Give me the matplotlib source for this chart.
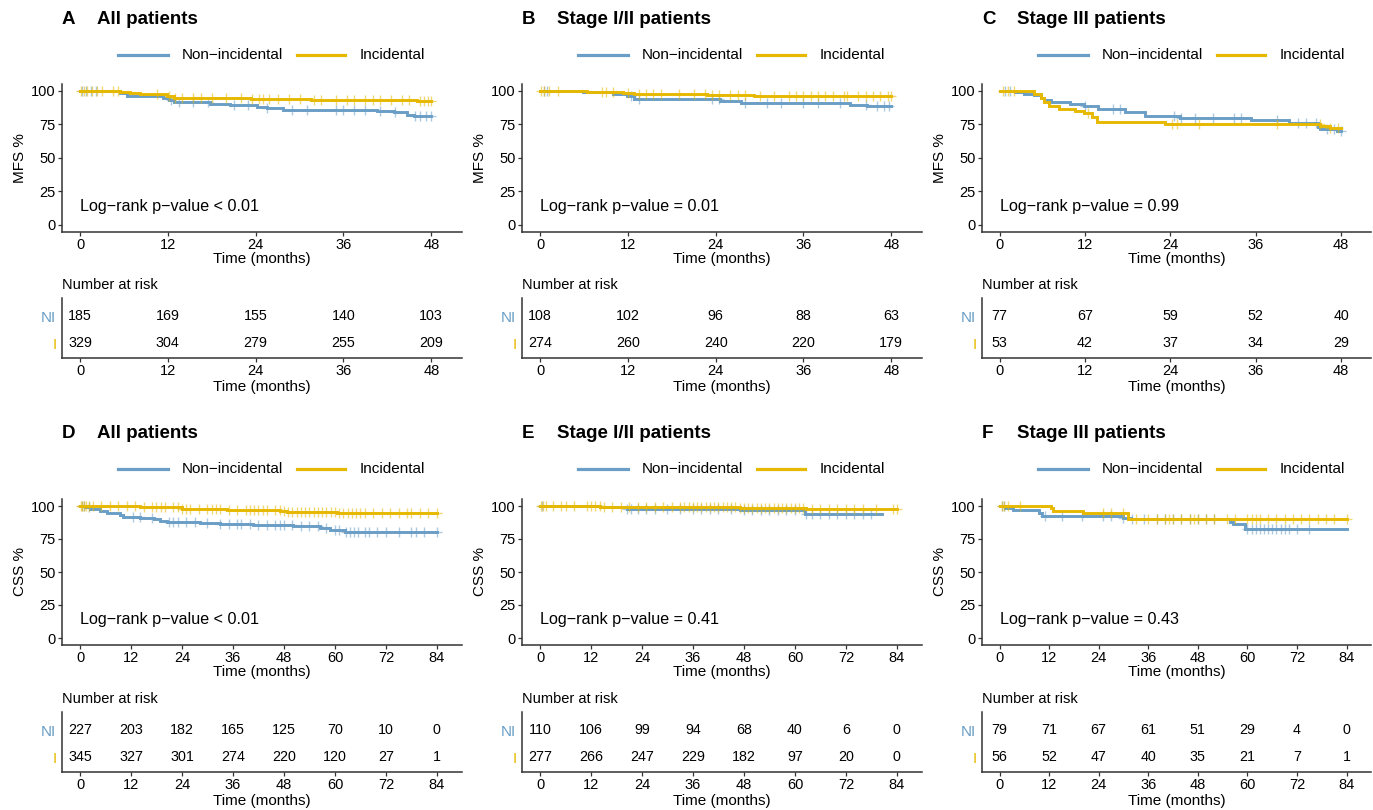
import numpy as np
import matplotlib
matplotlib.use("Agg")
import matplotlib.pyplot as plt
from matplotlib.lines import Line2D

plt.rcParams['font.family'] = ['Liberation Sans', 'DejaVu Sans']

BLUE = '#6a9ec6'
YELLOW = '#e7b800'
AXC = '#333333'
W, H = 1373, 810

# ---- panel A: MFS, all patients ----
a_ni_time = [0, 5.5, 6.4, 11.4, 12.1, 12.8, 17.8, 20.5, 24.2, 25.5, 27.8, 40.6, 42.9, 44.7, 45.6, 48]
a_ni_surv = [100, 98.5, 96, 95, 93, 91.5, 90.5, 89.5, 88, 87, 86, 85, 84, 82, 81, 81]
a_ni_cens = [0.3, 0.8, 1.5, 2.2, 12.5, 13.5, 15.5, 17.5, 21, 23, 25.5, 29, 31, 35, 36, 37.5, 39, 41, 43, 45.8, 46.5, 47.3, 47.9]
a_i_time = [0, 5.5, 6.8, 8.2, 11.9, 12.8, 23.3, 31.5, 46, 48]
a_i_surv = [100, 99.5, 98.5, 97.5, 96, 95, 94, 93, 92.5, 92.5]
a_i_cens = [0.2, 0.6, 1.0, 1.6, 2.3, 3.0, 4.5, 5.2, 10.5, 12.2, 13, 14, 15.5, 16.5, 18, 20, 22, 23.5, 24.5, 25,
            25.8, 27, 28.5, 30, 32, 33, 35, 36.5, 37.5, 39, 40, 41, 42.5, 44, 45, 46.5, 47, 47.5, 48]

# ---- panel B: MFS, stage I/II ----
b_ni_time = [0, 5.9, 10, 11.9, 12.8, 24.6, 27.4, 42.4, 44.7, 48]
b_ni_surv = [100, 99.3, 97.8, 96.5, 94.3, 92.9, 91.4, 89.9, 88.8, 88.8]
b_ni_cens = [0.5, 1, 12.5, 13.5, 23.5, 24.5, 28, 31, 33, 36, 38, 41, 44.5, 46, 47, 47.7]
b_i_time = [0, 6.4, 11.4, 12.8, 22.8, 29.2, 33.7, 48]
b_i_surv = [100, 99.5, 98.7, 97.7, 97.2, 96.4, 95.9, 95.9]
b_i_cens = [0.2, 0.6, 1.2, 2.5, 8.5, 9, 10, 12, 13.5, 14.5, 15.5, 16.5, 19, 21, 22.5, 23.5, 24.5, 26, 27, 28, 30,
            32, 34, 35, 36, 37, 38, 39, 40, 41.5, 42, 43.5, 44.5, 45.5, 46.5, 47.5, 48]

# ---- panel C: MFS, stage III ----
c_ni_time = [0, 2.2, 3.5, 4.9, 5.8, 6.3, 7.2, 9.9, 11.9, 13.8, 17.7, 20.4, 25.4, 35.3, 40.7, 44.7, 45.0, 47.4, 48]
c_ni_surv = [100, 99, 98, 97, 95, 93, 92, 90, 89, 86.5, 84, 81, 79.5, 78, 76, 73.5, 72, 70, 70]
c_ni_cens = [0.8, 1.5, 12, 16, 17, 24.5, 25.5, 27.5, 30, 33, 34, 39, 42, 43, 44.5, 46, 47, 48]
c_i_time = [0, 4.8, 5.8, 6.3, 6.9, 8.3, 10.6, 11.9, 13.0, 13.7, 23.3, 45.1, 46.5, 48]
c_i_surv = [100, 97.5, 95, 92, 88.75, 86.75, 85, 83.3, 80.75, 77, 75, 74, 72.5, 72.5]
c_i_cens = [0.5, 1.2, 2, 12.5, 24.3, 25, 28, 39, 45, 46.5, 47.5]

# ---- panel D: CSS, all patients ----
d_ni_time = [0, 1.2, 2.4, 4.7, 6.3, 9.4, 10.2, 14.1, 17.3, 18.8, 20.4, 28.2, 32.9, 40.8, 50.2, 56.5, 58.8, 61.2, 62.4, 84]
d_ni_surv = [100, 99, 97.5, 96, 94.5, 93, 92, 91, 90, 89, 88, 87, 86, 85.5, 84.5, 83, 82, 81.5, 80, 80]
d_ni_cens = [0.5, 1, 2, 12.5, 14, 17, 21, 22, 23, 25, 27, 30, 33, 35, 37, 38, 40, 42, 44, 46, 47, 48, 50, 52,
             54, 56, 58, 60, 61, 62.5, 63.5, 64.5, 65.5, 67, 68, 70, 72, 75, 78, 79, 81, 84]
d_i_time = [0, 14.1, 17.3, 23.9, 34.5, 47.1, 48.6, 60.4, 84]
d_i_surv = [100, 99.5, 99, 98, 97, 96, 95.5, 95, 95]
d_i_cens = [0.2, 0.5, 1, 1.5, 2, 3, 5, 7, 9, 11, 13, 15, 17, 18, 19, 20, 22, 23, 24, 25, 26, 28, 30, 31, 32, 33,
            35, 37, 39, 40, 41, 42, 43, 44, 46, 47, 48, 49, 50, 51, 52, 53, 54, 55, 56, 57, 58, 59, 60, 61, 62,
            63, 64, 65, 66, 67, 69, 71, 73, 75, 77, 78, 80, 82, 84]

# ---- panel E: CSS, stage I/II ----
e_ni_time = [0, 14.1, 20.4, 47, 62.4, 80.4]
e_ni_surv = [100, 99.3, 98, 97.3, 94, 94]
e_ni_cens = [0.5, 20.5, 21.5, 23, 25, 27, 30, 33, 36, 38, 40, 42, 45, 48, 50, 52, 54, 56, 58, 60, 62.7, 64,
             66, 68, 70, 72, 74, 76, 78]
e_i_time = [0, 14.1, 47, 62.7, 84]
e_i_surv = [100, 99.3, 98.3, 97.8, 97.8]
e_i_cens = [0.3, 0.8, 1.5, 3, 5, 6, 8, 11, 12, 13, 14, 15, 17, 19, 21, 23, 25, 27, 29, 31, 33, 34, 35, 36, 37,
            38, 39, 40, 41, 42, 43, 44, 45, 46, 47, 48, 49, 50, 51, 52, 53, 54, 55, 56, 57, 58, 59, 60, 61, 62,
            64, 66, 68, 70, 72, 74, 76, 79, 83, 84]

# ---- panel F: CSS, stage III ----
f_ni_time = [0, 1.3, 3.3, 9.6, 10.2, 29.8, 31.8, 55.8, 56.6, 59.3, 84]
f_ni_surv = [100, 98.8, 97.3, 95, 92.3, 91, 90, 87.6, 86, 82.7, 82.7]
f_ni_cens = [0.6, 1.2, 11, 15, 20, 25, 27, 30, 32, 35, 38, 40, 42, 44, 46, 48, 50, 52, 60, 61, 62, 63, 64,
             65, 66, 67, 68, 69, 70, 72, 75]
f_i_time = [0, 12.4, 13, 20.3, 31.2, 84]
f_i_surv = [100, 98.3, 96.5, 94.5, 90, 90]
f_i_cens = [0.5, 1.2, 2, 5, 25, 27, 30, 33, 36, 38, 40, 41, 42, 44, 46, 47, 48, 50, 52, 55, 57, 60, 61, 62,
            63, 65, 67, 69, 71, 73, 75, 77, 79, 81, 84]

# ---- numbers at risk ----
mfs_times = [0, 12, 24, 36, 48]
css_times = [0, 12, 24, 36, 48, 60, 72, 84]
risk_a_ni = [185, 169, 155, 140, 103]
risk_a_i = [329, 304, 279, 255, 209]
risk_b_ni = [108, 102, 96, 88, 63]
risk_b_i = [274, 260, 240, 220, 179]
risk_c_ni = [77, 67, 59, 52, 40]
risk_c_i = [53, 42, 37, 34, 29]
risk_d_ni = [227, 203, 182, 165, 125, 70, 10, 0]
risk_d_i = [345, 327, 301, 274, 220, 120, 27, 1]
risk_e_ni = [110, 106, 99, 94, 68, 40, 6, 0]
risk_e_i = [277, 266, 247, 229, 182, 97, 20, 0]
risk_f_ni = [79, 71, 67, 61, 51, 29, 4, 0]
risk_f_i = [56, 52, 47, 40, 35, 21, 7, 1]

letters = ['A', 'B', 'C', 'D', 'E', 'F']
titles = ['All patients', 'Stage I/II patients', 'Stage III patients'] * 2
pvalues = ['Log\u2212rank p\u2212value < 0.01', 'Log\u2212rank p\u2212value = 0.01', 'Log\u2212rank p\u2212value = 0.99',
           'Log\u2212rank p\u2212value < 0.01', 'Log\u2212rank p\u2212value = 0.41', 'Log\u2212rank p\u2212value = 0.43']

fig = plt.figure(figsize=(W / 100, H / 100), dpi=100)


def rect(left, top, right, bottom):
    return [left / W, 1 - bottom / H, (right - left) / W, (bottom - top) / H]


def style_axes(ax):
    for s in ['top', 'right']:
        ax.spines[s].set_visible(False)
    for s in ['left', 'bottom']:
        ax.spines[s].set_color(AXC)
        ax.spines[s].set_linewidth(1.1)
    ax.tick_params(colors=AXC, labelcolor='black', length=3, width=0.9, labelsize=10.5, pad=1.5)


def km(ax, time, surv, cens, color):
    time = np.asarray(time)
    surv = np.asarray(surv)
    ax.step(time, surv, where='post', color=color, lw=2.1, solid_joinstyle='miter')
    idx = np.searchsorted(time, np.asarray(cens), side='right') - 1
    ax.plot(cens, surv[np.clip(idx, 0, len(surv) - 1)], ls='none', marker='+', ms=6.5,
            mew=1.0, color=color, alpha=0.55)


curves = [
    (a_ni_time, a_ni_surv, a_ni_cens, a_i_time, a_i_surv, a_i_cens),
    (b_ni_time, b_ni_surv, b_ni_cens, b_i_time, b_i_surv, b_i_cens),
    (c_ni_time, c_ni_surv, c_ni_cens, c_i_time, c_i_surv, c_i_cens),
    (d_ni_time, d_ni_surv, d_ni_cens, d_i_time, d_i_surv, d_i_cens),
    (e_ni_time, e_ni_surv, e_ni_cens, e_i_time, e_i_surv, e_i_cens),
    (f_ni_time, f_ni_surv, f_ni_cens, f_i_time, f_i_surv, f_i_cens),
]
risks = [(risk_a_ni, risk_a_i), (risk_b_ni, risk_b_i), (risk_c_ni, risk_c_i),
         (risk_d_ni, risk_d_i), (risk_e_ni, risk_e_i), (risk_f_ni, risk_f_i)]

for k in range(6):
    row, col = divmod(k, 3)
    ox = col * 460
    oy = row * 414
    top_row = row == 0
    ticks = mfs_times if top_row else css_times
    xlim = (-2.46, 52.2) if top_row else (-4.24, 89.9)
    right = min(ox + 462, W - 2)

    # title and legend
    fig.text((ox + 62) / W, 1 - (oy + 20) / H, letters[k], fontsize=13.5, fontweight='bold', va='center')
    fig.text((ox + 97) / W, 1 - (oy + 20) / H, titles[k], fontsize=13.5, fontweight='bold', va='center')
    ly = 1 - (oy + 55) / H
    fig.add_artist(Line2D([(ox + 118) / W, (ox + 168) / W], [ly, ly], color=BLUE, lw=2.3))
    fig.text((ox + 182) / W, ly, 'Non\u2212incidental', fontsize=11, va='center')
    fig.add_artist(Line2D([(ox + 297) / W, (ox + 345) / W], [ly, ly], color=YELLOW, lw=2.3))
    fig.text((ox + 360) / W, ly, 'Incidental', fontsize=11, va='center')

    # survival curves
    y0 = 225 if top_row else 638
    y100 = 91 if top_row else 506
    pu = (y0 - y100) / 100.0
    ax = fig.add_axes(rect(ox + 62, y100 - 5 * pu, right, y0 + 5 * pu))
    tn, sn, cn, ti, si, ci = curves[k]
    km(ax, tn, sn, cn, BLUE)
    km(ax, ti, si, ci, YELLOW)
    ax.set_xlim(*xlim)
    ax.set_ylim(-5, 105)
    ax.set_xticks(ticks)
    ax.set_yticks([0, 25, 50, 75, 100])
    style_axes(ax)
    ax.set_xlabel('Time (months)', fontsize=11, labelpad=0)
    ax.set_ylabel('MFS %' if top_row else 'CSS %', fontsize=11, labelpad=3)
    ax.text(0, 14, pvalues[k], fontsize=11.6, va='center', ha='left')

    # number at risk table
    fig.text((ox + 62) / W, 1 - (oy + 285) / H, 'Number at risk', fontsize=10.5, va='center')
    tab = fig.add_axes(rect(ox + 62, oy + 298, right, oy + 358))
    ni, ii = risks[k]
    for t, v in zip(ticks, ni):
        tab.text(t, 1, str(v), ha='center', va='center', fontsize=10.3)
    for t, v in zip(ticks, ii):
        tab.text(t, 0, str(v), ha='center', va='center', fontsize=10.3)
    tab.set_xlim(*xlim)
    tab.set_ylim(-0.54, 1.68)
    tab.set_xticks(ticks)
    tab.set_yticks([0, 1])
    tab.set_yticklabels(['I', 'NI'], fontsize=11)
    style_axes(tab)
    tab.tick_params(axis='y', length=0, pad=4, labelsize=11)
    tab.get_yticklabels()[0].set_color(YELLOW)
    tab.get_yticklabels()[1].set_color(BLUE)
    tab.set_xlabel('Time (months)', fontsize=11, labelpad=1)

fig.savefig('out.png', dpi=100, facecolor='white')
